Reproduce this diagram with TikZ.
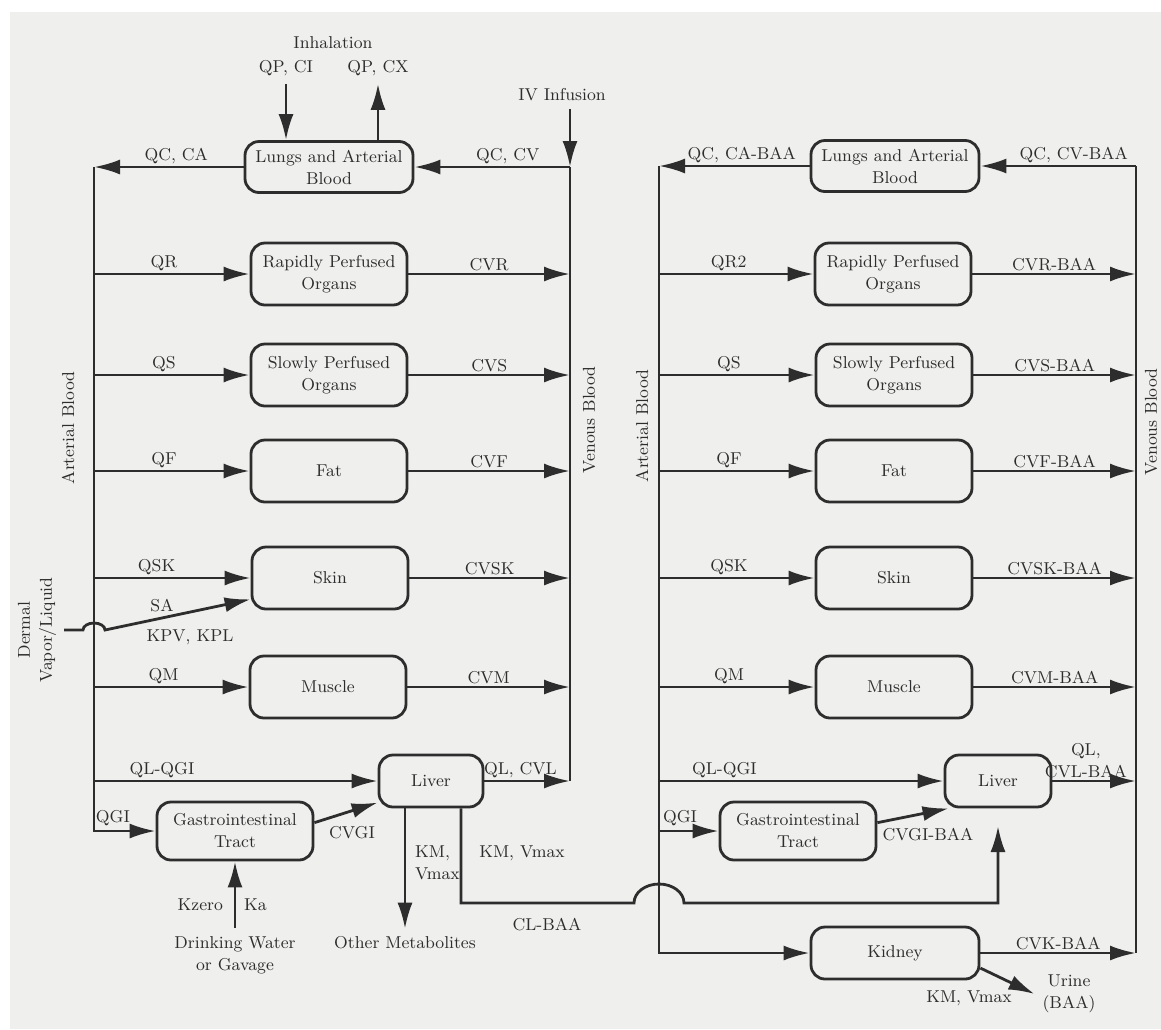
\documentclass[tikz,border=0pt]{standalone}
\usepackage{tikz}
\usetikzlibrary{arrows.meta}
\definecolor{paper}{RGB}{239,239,237}
\definecolor{ink}{RGB}{45,45,45}
\tikzset{>={Latex[length=13pt,width=7.5pt]}}

\begin{document}
\begin{tikzpicture}[x=0.5pt,y=-0.5pt,line width=1.4pt,draw=ink,text=ink,
    font=\fontsize{8.6}{11}\selectfont,
    lbl/.style={above,inner sep=1pt}]
\useasboundingbox (0,0) rectangle (1161,1029);
\fill[paper] (10,12) rectangle (1161,1029);

\begin{scope}[every node/.style={draw=ink,rounded corners=7pt,align=center,
        minimum width=78pt,minimum height=31pt,inner sep=2pt}]
\node[minimum width=84pt,minimum height=25.5pt] (LU1) at (329,167) {Lungs and Arterial\\Blood};
\node (RP1) at (329,274) {Rapidly Perfused\\Organs};
\node (SP1) at (329,375) {Slowly Perfused\\Organs};
\node (FA1) at (329,471) {Fat};
\node (SK1) at (330,578) {Skin};
\node (MU1) at (328,687) {Muscle};
\node[minimum width=52pt,minimum height=26pt] (LI1) at (431,781) {Liver};
\node[minimum height=29pt] (GI1) at (235,831) {Gastrointestinal\\Tract};

\node[minimum width=84pt,minimum height=25.5pt] (LU2) at (895,166) {Lungs and Arterial\\Blood};
\node (RP2) at (893,274) {Rapidly Perfused\\Organs};
\node (SP2) at (894,375) {Slowly Perfused\\Organs};
\node (FA2) at (894,471) {Fat};
\node (SK2) at (894,578) {Skin};
\node (MU2) at (894,687) {Muscle};
\node[minimum width=53pt,minimum height=26pt] (LI2) at (998,781) {Liver};
\node[minimum height=29pt] (GI2) at (798,831) {Gastrointestinal\\Tract};
\node[minimum width=84pt,minimum height=26pt] (KI2) at (895,953) {Kidney};
\end{scope}

\coordinate (A1) at (94,167);
\coordinate (A1b) at (94,831);
\coordinate (V1) at (570,167);
\coordinate (V1b) at (570,781);
\coordinate (A2) at (659,166);
\coordinate (A2b) at (659,953);
\coordinate (V2) at (1136,166);
\coordinate (V2b) at (1136,953);

% texts
\node (INH) at (333,43) {Inhalation};
\node (QPI) at (286,68) {QP, CI};
\node (QPX) at (378,68) {QP, CX};
\node (IV) at (562,95) {IV Infusion};
\node[rotate=90] at (68,428) {Arterial Blood};
\node[rotate=90] at (589,420) {Venous Blood};
\node[rotate=90] at (642,426) {Arterial Blood};
\node[rotate=90] at (1151,422) {Venous Blood};
\node[rotate=90,align=center] (DV) at (37,630) {Dermal\\Vapor/Liquid};
\node at (162,606) {SA};
\node at (190,637) {KPV, KPL};
\node at (113,818) {QGI};
\node at (352,833) {CVGI};
\node[align=left,anchor=west] at (407,863) {KM,\\Vmax};
\node (OM1) at (405,943) {Other Metabolites};
\node[align=center] (DW1) at (235,955) {Drinking Water\\or Gavage};
\node[anchor=east] at (231,905) {Kzero};
\node[anchor=west] at (236,905) {Ka};
\node at (522,853) {KM, Vmax};
\node at (547,925) {CL-BAA};
\node at (680,818) {QGI};
\node at (928,835) {CVGI-BAA};
\node[align=center] (UR2) at (1069,994) {Urine\\(BAA)};
\node at (969,998) {KM, Vmax};

\coordinate (CL1) at (461,903);
\coordinate (CL2) at (998,903);
\coordinate (CL3) at (998,826);

\begin{scope}[every edge/.style={draw=ink,line width=1.4pt}]
% left body
\draw (V1) -- (V1b);
\draw[->] (A1) -- (A1b) -- (GI1);
\path[->] (QPI) edge (QPI |- LU1.north);
\path[->] (QPX |- LU1.north) edge (QPX);
\path[->] (V1 |- IV.south) edge (V1);
\path[->] (LU1) edge node[lbl,pos=0.45] {QC, CA} (A1);
\path[->] (V1) edge node[lbl,pos=0.4] {QC, CV} (LU1);
\path[->] (A1 |- RP1) edge node[lbl,pos=0.45] {QR} (RP1);
\path[->] (RP1) edge node[lbl] {CVR} (V1 |- RP1);
\path[->] (A1 |- SP1) edge node[lbl,pos=0.45] {QS} (SP1);
\path[->] (SP1) edge node[lbl] {CVS} (V1 |- SP1);
\path[->] (A1 |- FA1) edge node[lbl,pos=0.45] {QF} (FA1);
\path[->] (FA1) edge node[lbl] {CVF} (V1 |- FA1);
\path[->] (A1 |- SK1) edge node[lbl,pos=0.4] {QSK} (SK1);
\path[->] (SK1) edge node[lbl] {CVSK} (V1 |- SK1);
\path[->] (A1 |- MU1) edge node[lbl,pos=0.45] {QM} (MU1);
\path[->] (MU1) edge node[lbl] {CVM} (V1 |- MU1);
\path[->] (A1 |- LI1) edge node[lbl,pos=0.24] {QL-QGI} (LI1);
\path[->] (LI1) edge node[lbl,pos=0.42] {QL, CVL} (V1b);
\path[->] (GI1.6) edge (LI1.202);
\path[->] (DW1) edge (GI1);
\path[->] (OM1 |- LI1.south) edge (OM1);
\draw[->] (DV.south) -- (83,630) arc[start angle=180,end angle=360,x radius=11,y radius=7] -- (SK1.195);
\draw[->] (CL1 |- LI1.south) -- (CL1) -- (634,903)
    arc[start angle=180,end angle=360,x radius=25,y radius=19] -- (CL2) -- (CL3);

% right body
\draw (V2) -- (V2b);
\draw[->] (A2) -- (A2b) -- (KI2);
\path[->] (LU2) edge node[lbl,pos=0.45] {QC, CA-BAA} (A2);
\path[->] (V2) edge node[lbl,pos=0.4] {QC, CV-BAA} (LU2);
\path[->] (A2 |- RP2) edge node[lbl,pos=0.45] {QR2} (RP2);
\path[->] (RP2) edge node[lbl] {CVR-BAA} (V2 |- RP2);
\path[->] (A2 |- SP2) edge node[lbl,pos=0.45] {QS} (SP2);
\path[->] (SP2) edge node[lbl] {CVS-BAA} (V2 |- SP2);
\path[->] (A2 |- FA2) edge node[lbl,pos=0.45] {QF} (FA2);
\path[->] (FA2) edge node[lbl] {CVF-BAA} (V2 |- FA2);
\path[->] (A2 |- SK2) edge node[lbl,pos=0.45] {QSK} (SK2);
\path[->] (SK2) edge node[lbl] {CVSK-BAA} (V2 |- SK2);
\path[->] (A2 |- MU2) edge node[lbl,pos=0.45] {QM} (MU2);
\path[->] (MU2) edge node[lbl] {CVM-BAA} (V2 |- MU2);
\path[->] (A2 |- LI2) edge node[lbl,pos=0.23] {QL-QGI} (LI2);
\path[->] (LI2) edge node[lbl,align=center,pos=0.4] {QL,\\CVL-BAA} (V2 |- LI2);
\path[->] (A2 |- GI2) edge (GI2);
\path[->] (GI2.6) edge (LI2.209);
\path[->] (KI2) edge node[lbl] {CVK-BAA} (V2b);
\path[->] (KI2.-10) edge (UR2.west);
\end{scope}
\end{tikzpicture}
\end{document}
